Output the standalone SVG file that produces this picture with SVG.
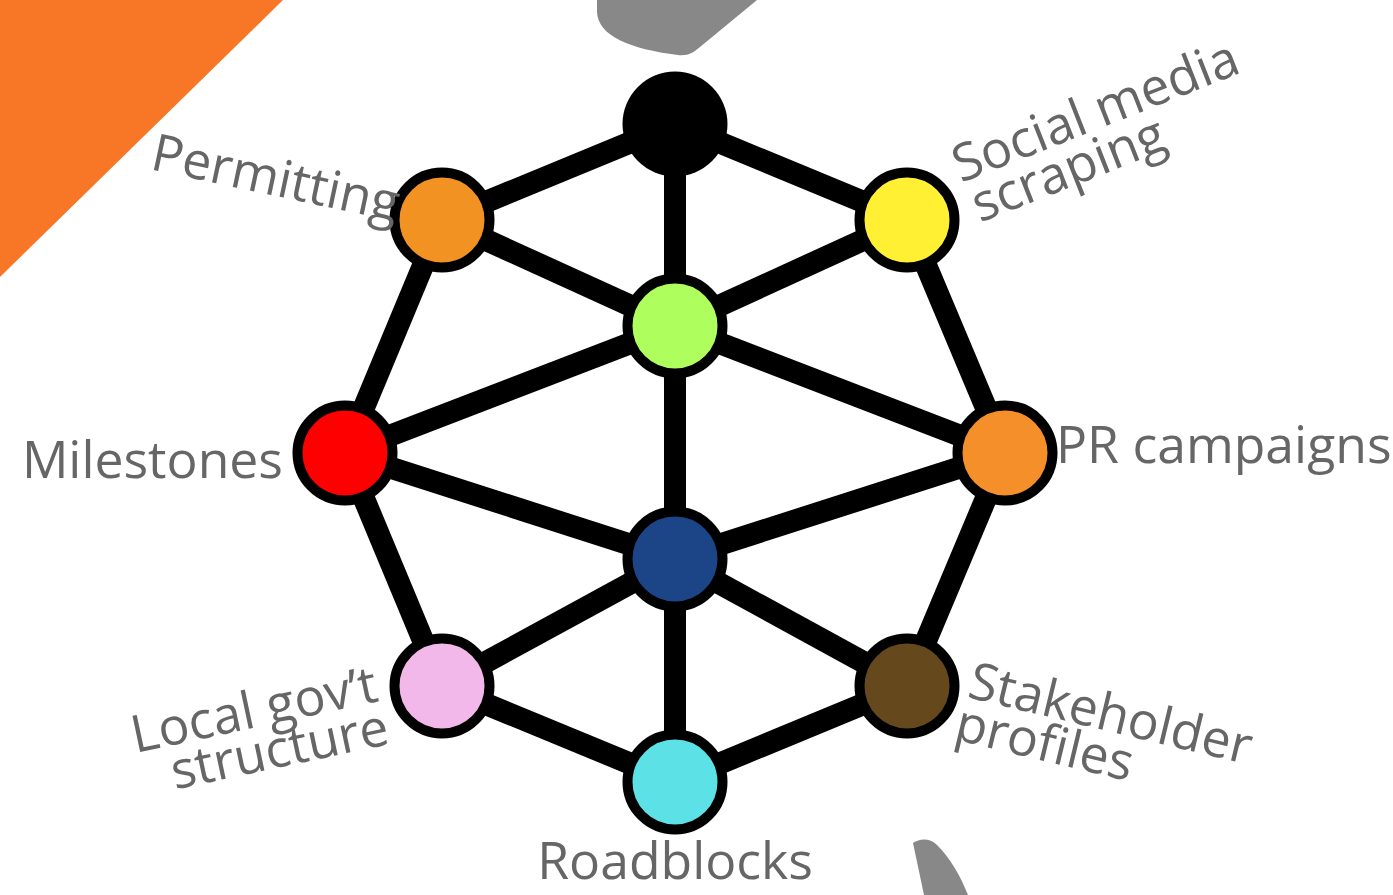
<svg xmlns="http://www.w3.org/2000/svg" width="1393" height="895" viewBox="0 0 1393 895">
<style>
.bg{fill:#ffffff}
.edge{stroke:#000;stroke-width:22;stroke-linecap:butt;fill:none}
.node{stroke:#000;stroke-width:10}
.lbl{font-family:"Open Sans","Liberation Sans",sans-serif;font-size:51.7px;fill:#666666}
.blob{fill:#888888}
</style>
<rect class="bg" x="0" y="0" width="1393" height="895"/>
<g id="decor">
<polygon points="0,0 283,0 0,277" fill="#F77726"/>
<path class="blob" d="M597,0 L597,12 C598,36 630,49 678,55 C688,56 693,53 700,47 L757,0 Z"/>
<path class="blob" d="M913,843 C920,838 930,838 937,845 C950,858 960,875 968,895 L924,895 Z"/>
</g>
<g id="connectors">
<line class="edge" x1="675" y1="124" x2="442" y2="220"/>
<line class="edge" x1="675" y1="124" x2="907" y2="220"/>
<line class="edge" x1="675" y1="124" x2="675" y2="326"/>
<line class="edge" x1="442" y1="220" x2="675" y2="326"/>
<line class="edge" x1="907" y1="220" x2="675" y2="326"/>
<line class="edge" x1="442" y1="220" x2="345" y2="453"/>
<line class="edge" x1="907" y1="220" x2="1005" y2="453"/>
<line class="edge" x1="345" y1="453" x2="675" y2="326"/>
<line class="edge" x1="1005" y1="453" x2="675" y2="326"/>
<line class="edge" x1="675" y1="326" x2="675" y2="559"/>
<line class="edge" x1="345" y1="453" x2="675" y2="559"/>
<line class="edge" x1="1005" y1="453" x2="675" y2="559"/>
<line class="edge" x1="345" y1="453" x2="442" y2="686"/>
<line class="edge" x1="1005" y1="453" x2="907" y2="686"/>
<line class="edge" x1="675" y1="559" x2="442" y2="686"/>
<line class="edge" x1="675" y1="559" x2="907" y2="686"/>
<line class="edge" x1="675" y1="559" x2="675" y2="782"/>
<line class="edge" x1="442" y1="686" x2="675" y2="782"/>
<line class="edge" x1="907" y1="686" x2="675" y2="782"/>
</g>
<g id="node-top"><circle cx="675" cy="124" r="52.5" fill="#000"/></g>
<g id="node-permitting">
<circle class="node" cx="442" cy="220" r="47.5" fill="#F29222"/>
<text class="lbl" transform="translate(149,169) rotate(12)">Permitting</text>
</g>
<g id="node-social">
<circle class="node" cx="907" cy="220" r="47.5" fill="#FFF033"/>
<text class="lbl" transform="translate(961,183) rotate(-21.5)"><tspan x="0" y="0">Social media</tspan><tspan x="3" y="44">scraping</tspan></text>
</g>
<g id="node-center"><circle class="node" cx="675" cy="326" r="47.5" fill="#AEFF5E"/></g>
<g id="node-milestones">
<circle class="node" cx="345" cy="453" r="47.5" fill="#FF0000"/>
<text class="lbl" x="283" y="478" text-anchor="end">Milestones</text>
</g>
<g id="node-pr">
<circle class="node" cx="1005" cy="453" r="47.5" fill="#F48F2A"/>
<text class="lbl" x="1056" y="463">PR campaigns</text>
</g>
<g id="node-hub"><circle class="node" cx="675" cy="559" r="47.5" fill="#1B4586"/></g>
<g id="node-localgov">
<circle class="node" cx="442" cy="686" r="47.5" fill="#F2B8E9"/>
<text class="lbl" transform="translate(380,701) rotate(-12)" text-anchor="end"><tspan x="0" y="0">Local gov’t</tspan><tspan x="2" y="44">structure</tspan></text>
</g>
<g id="node-stakeholder">
<circle class="node" cx="907" cy="686" r="47.5" fill="#65481B"/>
<text class="lbl" transform="translate(966,697) rotate(13.5)"><tspan x="0" y="0">Stakeholder</tspan><tspan x="-3" y="44">profiles</tspan></text>
</g>
<g id="node-roadblocks">
<circle class="node" cx="675" cy="782" r="47.5" fill="#5CE1E6"/>
<text class="lbl" x="675" y="879" text-anchor="middle">Roadblocks</text>
</g>
</svg>
